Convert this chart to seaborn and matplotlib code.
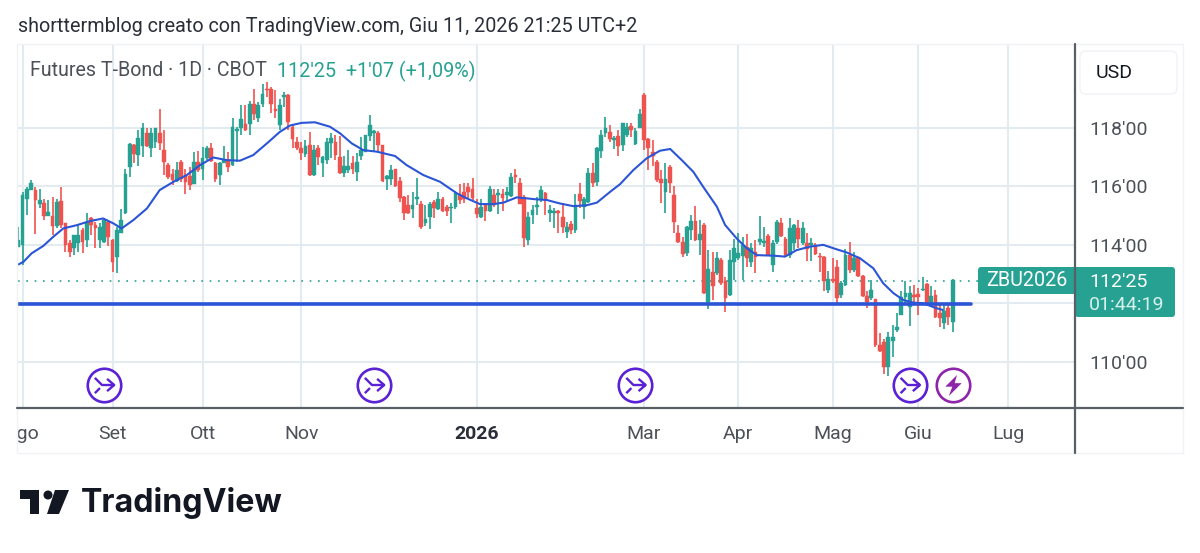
import pandas as pd
import seaborn as sns
import matplotlib.pyplot as plt
from matplotlib.path import Path
from matplotlib.patches import Circle, FancyBboxPatch, Polygon, Rectangle
from matplotlib.transforms import Bbox

# daily candles, values (T-Bond futures, decimal points)
opens = [113.93,113.99,115.58,115.87,115.87,115.41,115.43,114.98,114.99,114.64,115.49,114.73,114.05,113.88,114.05,114.50,114.16,114.90,114.67,114.16,
114.10,114.79,114.16,113.59,114.41,115.07,116.64,117.40,117.06,117.37,117.80,117.32,117.51,117.82,117.23,116.74,116.41,116.18,116.83,116.38,
116.34,116.09,116.83,116.57,116.95,117.29,116.80,116.38,116.80,116.89,116.72,117.89,117.97,118.12,118.12,118.80,118.31,118.82,119.33,119.33,
118.65,118.08,119.05,119.10,118.03,117.52,117.32,117.10,117.40,116.38,117.32,116.78,116.91,117.48,117.52,116.98,116.44,116.55,116.80,116.49,
117.03,117.18,117.71,117.82,117.82,117.40,116.23,116.23,116.57,116.18,115.64,115.36,115.21,115.58,115.41,114.76,114.94,115.47,115.21,115.58,
115.30,115.24,115.28,115.70,115.81,115.96,115.92,115.24,114.96,115.36,115.16,115.70,115.70,115.72,115.70,115.66,116.38,116.10,115.64,114.16,
115.02,115.28,115.58,115.78,115.07,115.07,115.13,114.94,114.45,114.71,114.51,115.73,115.30,115.47,116.44,116.15,117.21,117.80,117.86,117.57,
117.71,117.40,117.75,118.05,117.44,117.99,119.11,117.60,117.18,116.84,116.23,115.81,116.67,115.70,114.39,114.11,113.73,114.51,114.82,114.17,
114.68,112.06,113.09,113.03,113.48,112.78,112.29,113.43,113.54,113.62,113.94,113.43,113.77,114.11,114.07,114.30,113.31,114.11,114.76,114.19,
113.65,114.05,114.56,114.05,114.08,113.98,113.98,113.62,113.60,112.46,112.80,113.26,112.29,112.63,113.66,113.14,113.58,112.94,112.26,112.18,
112.14,110.59,110.70,109.83,110.72,111.08,111.61,112.21,111.89,112.29,112.33,112.46,112.67,111.95,112.29,111.67,111.33,111.84,111.38]
highs = [114.62,115.81,115.98,116.21,115.96,115.89,115.55,115.53,115.64,115.58,115.96,114.75,114.16,114.35,114.67,114.56,115.09,114.96,114.79,114.73,
114.90,114.84,114.21,114.62,115.21,116.60,117.46,117.43,117.93,118.16,117.97,117.97,118.00,118.65,117.91,116.78,116.60,116.83,116.91,116.60,
116.66,117.17,117.20,117.34,117.37,117.46,116.83,116.83,117.37,117.17,118.31,118.03,118.76,118.76,118.90,119.33,118.88,119.48,119.56,119.37,
119.28,118.99,119.22,119.14,118.09,117.69,117.52,117.57,117.86,117.40,117.40,117.03,117.63,117.82,117.74,117.71,117.03,117.23,117.03,117.14,
117.69,117.74,118.43,117.91,117.89,117.40,116.38,116.72,116.60,116.32,115.66,115.70,115.81,116.27,115.51,115.36,115.47,115.53,115.81,115.64,
115.36,115.44,115.85,116.07,116.12,116.10,116.27,115.55,115.55,115.39,116.01,115.92,115.92,115.92,115.98,116.44,116.57,116.27,115.70,115.13,
115.36,115.64,116.01,115.81,115.36,115.24,115.19,115.44,114.79,114.82,115.73,116.10,115.64,116.61,116.78,117.35,117.92,118.37,118.09,117.71,
117.92,118.17,118.14,118.17,117.97,118.65,119.19,117.63,117.57,116.89,116.55,116.78,116.72,116.01,114.68,114.28,114.64,115.02,115.32,114.85,
114.73,113.82,113.77,113.77,113.54,112.92,113.82,114.19,114.42,114.28,114.37,114.05,114.17,114.98,114.62,114.37,114.17,114.85,114.90,114.28,
114.90,114.71,114.85,114.79,114.39,114.22,114.05,113.71,113.62,113.12,113.54,113.49,112.78,113.85,114.11,113.77,113.60,112.97,112.41,112.80,
112.14,111.01,110.78,111.04,111.27,111.69,112.41,112.78,112.58,112.63,112.52,112.92,112.69,112.60,112.46,111.99,111.95,111.97,112.82]
lows = [113.91,113.31,115.01,115.87,114.37,115.24,114.84,114.98,114.33,114.56,114.56,113.76,113.59,113.65,113.76,113.73,113.93,114.33,113.88,113.88,
114.05,113.96,113.06,113.03,114.39,115.05,116.30,116.80,116.68,117.00,117.34,117.00,117.32,117.23,116.38,116.26,116.04,116.15,116.15,115.75,
115.87,116.07,116.49,116.21,116.89,116.83,116.15,116.04,116.78,116.49,116.68,116.83,117.74,117.89,117.74,118.25,118.20,118.71,119.05,118.50,
118.31,117.91,118.71,117.91,117.29,117.23,116.91,117.01,116.36,116.36,116.72,116.32,116.76,116.95,116.91,116.41,116.32,116.46,116.41,116.19,
116.91,117.18,117.55,117.18,117.14,116.15,115.87,116.04,115.96,115.47,114.85,115.05,114.90,115.36,114.53,114.64,114.53,114.90,115.19,115.13,
114.98,114.76,115.21,115.41,115.44,115.59,115.53,114.90,114.90,114.82,115.13,115.30,115.05,115.16,115.47,115.64,116.10,115.39,113.91,113.99,
114.71,115.02,115.47,115.02,114.79,114.56,114.39,114.39,114.22,114.37,114.41,115.24,114.87,115.44,115.96,116.00,116.95,117.67,117.52,117.26,
117.03,117.21,117.69,117.67,117.40,117.97,117.23,116.55,116.69,116.15,115.44,115.07,115.76,114.42,114.07,113.60,113.62,114.17,114.14,113.65,
112.32,111.80,112.12,112.97,112.63,111.72,112.26,112.80,113.48,112.80,113.26,113.26,113.05,114.00,113.94,113.62,113.09,114.03,114.28,113.60,
113.54,113.82,113.88,114.00,113.46,113.46,113.66,113.09,112.44,112.35,112.69,112.03,112.18,112.60,113.03,113.09,112.92,112.21,111.84,112.12,
110.53,110.36,109.60,109.53,110.17,111.04,111.61,111.95,111.24,111.95,111.61,112.41,111.95,111.89,111.50,111.21,111.12,111.27,111.04]
closes = [114.16,115.70,115.92,116.12,115.53,115.53,114.98,115.13,114.64,115.47,114.67,113.99,113.76,114.33,114.35,114.10,114.79,114.67,114.59,114.62,
114.84,114.28,113.42,114.50,114.84,116.41,117.43,117.09,117.63,117.97,117.37,117.82,117.97,117.46,116.83,116.30,116.21,116.55,116.23,116.15,
116.04,116.83,116.55,116.95,117.29,116.87,116.23,116.78,116.91,116.66,118.03,117.93,118.28,117.93,118.82,118.46,118.76,119.16,119.28,118.82,
118.57,118.76,119.10,118.20,117.60,117.32,117.14,117.37,116.38,117.23,116.98,116.98,117.52,117.63,117.06,116.46,116.69,116.69,116.57,116.83,
117.23,117.74,118.09,117.85,117.40,116.19,116.35,116.55,116.01,115.59,115.07,115.07,115.36,115.64,114.62,114.87,115.41,115.24,115.58,115.16,
115.16,115.30,115.78,115.53,115.55,115.81,115.59,115.05,115.30,115.16,115.92,115.36,115.78,115.59,115.81,116.30,116.30,115.41,114.22,114.96,
115.19,115.36,115.87,115.53,115.19,115.16,115.10,114.62,114.60,114.51,115.36,115.51,115.55,116.46,116.10,117.29,117.75,117.97,117.60,117.63,
117.38,118.14,118.03,117.92,117.89,118.46,117.57,117.29,117.03,116.21,116.12,116.23,116.10,114.79,114.11,113.69,114.62,114.82,114.17,114.37,
112.37,113.17,112.60,113.54,112.71,112.18,113.48,113.88,113.73,114.00,113.54,113.88,113.60,114.19,114.14,113.65,114.05,114.79,114.30,113.65,
114.56,114.68,114.19,114.56,113.85,114.05,113.69,113.58,112.78,112.83,112.78,112.18,112.69,113.66,113.14,113.54,112.94,112.26,112.06,112.46,
110.59,110.39,109.83,110.87,110.87,111.21,112.21,112.37,112.35,112.21,112.21,112.49,112.06,112.26,111.53,111.50,111.76,111.55,112.80]

# moving average read at these bars
ma_bars = [0,1.2,3.1,5.8,8.2,10.5,13.6,16.7,19.8,22.2,24.1,26.8,30,33,36.2,39.3,42.4,45.5,48.6,51.7,54.8,58,
61,63.4,66.1,69.2,72.7,75.1,77.8,80.5,83.6,87.9,90.6,94.5,98.4,102.3,104.6,107.7,110.8,113.2,116.3,121,123.3,126.4,
129.5,132.6,135,138.1,140.4,143.5,146.6,149.7,152.1,154.8,157.5,159.8,163,164.9,167.6,170,172.3,176.2,178.9,181.6,184.7,
187.8,190.9,193.3,196.4,199.5,201.8,204.2,206.5,208.8,211.1,214.2,215.7]
ma_values = [113.33,113.42,113.71,113.96,114.28,114.56,114.67,114.81,114.90,114.73,114.56,114.84,115.24,115.87,116.15,116.38,116.72,116.98,116.89,116.87,117.06,117.46,
117.85,118.07,118.16,118.18,118.03,117.80,117.46,117.23,117.18,117.03,116.72,116.38,116.15,115.76,115.59,115.39,115.39,115.44,115.62,115.55,115.53,115.41,
115.32,115.35,115.44,115.81,116.07,116.55,116.95,117.21,117.27,116.89,116.49,115.98,115.30,114.68,114.22,113.88,113.65,113.63,113.60,113.82,113.94,
114.00,113.85,113.74,113.54,113.20,112.69,112.35,112.12,112.03,112.01,111.84,111.78]

support_level = 111.98
support_bars = [0, 222.3]
last_price = 112.78

month_bars = [1, 22, 43, 66, 107, 146, 168, 190, 210, 231]
month_labels = ['Ago', 'Set', 'Ott', 'Nov', '2026', 'Mar', 'Apr', 'Mag', 'Giu', 'Lug']
price_ticks = [110, 112, 114, 116, 118]
price_labels = ["110'00", '', "114'00", "116'00", "118'00"]
split_bars = [20, 83, 144, 208]
earnings_bar = [218]

GREEN = '#26a192'
RED = '#ef5350'
BLUE = '#2b55d6'
GRID = '#e3ebf1'
DARK = '#5a5e66'
TEXT = '#4c5058'
W, H = 1200, 553

sns.set_style('white')
plt.rcParams['font.family'] = ['Roboto', 'DejaVu Sans']

df = pd.DataFrame({'open': opens, 'high': highs, 'low': lows, 'close': closes})
df['bar'] = df.index
df['bottom'] = df[['open', 'close']].min(axis=1)
df['body'] = (df['close'] - df['open']).abs().clip(lower=0.05)
df['color'] = [GREEN if c >= o else RED for o, c in zip(df['open'], df['close'])]

fig = plt.figure(figsize=(W / 100, H / 100), dpi=100, facecolor='white')
ax = fig.add_axes([18 / W, 1 - 407 / H, 1057 / W, 363 / H])
ax.set_xlim(-0.07, 246.55)
ax.set_ylim(108.47, 120.85)
ax.set_axisbelow(True)
ax.grid(True, color=GRID, lw=1.5)
for s in ax.spines.values():
    s.set_visible(False)

ax.vlines(df['bar'], df['low'], df['high'], colors=df['color'], lw=1.2, zorder=3)
ax.bar(df['bar'], df['body'], bottom=df['bottom'], width=0.88, color=df['color'], lw=0.3,
       edgecolor=df['color'], zorder=4)
sns.lineplot(x=ma_bars, y=ma_values, color=BLUE, lw=1.5, ax=ax, zorder=5)
sns.lineplot(x=support_bars, y=[support_level, support_level], color=BLUE, lw=2.6, ax=ax, zorder=5)
ax.plot([-0.07, 224], [last_price, last_price], color=GREEN, lw=1.2, ls=(0, (1, 4)), zorder=2)
ax.set_xlabel('')
ax.set_ylabel('')

ax.set_xticks(month_bars)
ax.set_xticklabels(month_labels)
ax.yaxis.tick_right()
ax.set_yticks(price_ticks)
ax.set_yticklabels(price_labels)
ax.tick_params(axis='y', length=0, pad=10, labelsize=14, labelcolor=TEXT)
ax.tick_params(axis='x', length=0, pad=13, labelsize=14, labelcolor=TEXT)
for lab in ax.get_xticklabels():
    if lab.get_text() == '2026':
        lab.set_fontweight('bold')
        lab.set_color('#2a2e39')
    if lab.get_text() == 'Ago':
        lab.set_clip_box(Bbox([[18, 0], [W, H]]))
        lab.set_clip_on(True)

# event badges along the bottom of the chart
merge_icon = Path([(-9, 7), (-2, 0), (10, 0), (3, 6), (10, 0), (3, -6), (-4, -3), (-9, -8)],
                  [1, 2, 2, 1, 2, 2, 1, 2])
bolt_icon = Path([(3, 9), (-7, -1), (-1, -1), (-4, -9), (7, 2), (1, 2)], closed=False)
badge_y = 109.22
ax.scatter(split_bars, [badge_y] * len(split_bars), s=580, facecolor='white', edgecolor='#5b21d6', lw=1.9, zorder=6)
ax.scatter(split_bars, [badge_y] * len(split_bars), s=215, marker=merge_icon, facecolor='none', edgecolor='#5b21d6', lw=1.7, zorder=7)
ax.scatter(earnings_bar, [badge_y], s=580, facecolor='white', edgecolor='#8e24aa', lw=1.9, zorder=6)
ax.scatter(earnings_bar, [badge_y], s=230, marker=bolt_icon, color='#8e24aa', lw=0, zorder=7)

# page furniture drawn in pixel space
page = fig.add_axes([0, 0, 1, 1], zorder=10)
page.set_xlim(0, W)
page.set_ylim(H, 0)
page.axis('off')
page.patch.set_alpha(0)

page.add_patch(Rectangle((17, 44), 1166, 409, fill=False, ec='#f0f2f5', lw=1))
page.plot([17, 1183], [407.5, 407.5], color=DARK, lw=1.6)

page.text(18, 26, 'shorttermblog creato con TradingView.com, Giu 11, 2026 21:25 UTC+2',
          fontsize=14.25, color='#2a2e39', va='center', ha='left')
page.text(30, 71, 'Futures T-Bond · 1D · CBOT', fontsize=14.1, color=TEXT, va='center', ha='left')
page.text(277, 71, "112'25  +1'07 (+1,09%)", fontsize=14.2, color=GREEN, va='center', ha='left')

page.add_patch(FancyBboxPatch((1083, 54), 91, 37, boxstyle='round,pad=3,rounding_size=6',
                              fc='white', ec='#f0f2f5', lw=1))
page.text(1096, 73, 'USD', fontsize=14, color='#131722', va='center', ha='left')

page.add_patch(FancyBboxPatch((981, 270), 94, 21, boxstyle='round,pad=3,rounding_size=3', fc=GREEN, ec='none'))
page.add_patch(FancyBboxPatch((1078, 270), 94, 44, boxstyle='round,pad=3,rounding_size=3', fc=GREEN, ec='none'))
page.add_patch(Rectangle((1070, 267), 12, 27, fc=GREEN, ec='none'))
page.plot([1075, 1075], [44, 453], color=DARK, lw=1.6)
page.text(986, 281, 'ZBU2026', fontsize=14.2, color='white', va='center', ha='left')
page.text(1089, 282, "112'25", fontsize=14, color='white', va='center', ha='left')
page.text(1089, 305, '01:44:19', fontsize=14, color='#d8f0ec', va='center', ha='left')

# TradingView logo
page.add_patch(Polygon([(20, 490), (39, 490), (39, 514), (30, 514), (30, 499), (20, 499)], fc='#131722', ec='none'))
page.add_patch(Circle((48, 495), 4.5, fc='#131722', ec='none'))
page.add_patch(Polygon([(55, 490), (69, 490), (59, 514), (47, 514)], fc='#131722', ec='none'))
page.text(81, 503, 'TradingView', fontsize=23.2, fontfamily='Inter', fontweight='bold',
          color='#131722', va='center', ha='left')

fig.savefig('out.png', dpi=100, facecolor='white')
